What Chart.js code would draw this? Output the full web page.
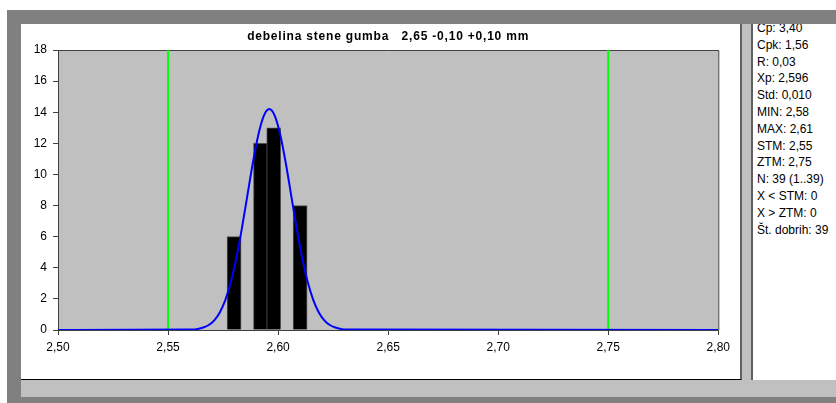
<!DOCTYPE html>
<html>
<head>
<meta charset="utf-8">
<script src="https://cdn.jsdelivr.net/npm/chart.js@4.4.1/dist/chart.umd.min.js"></script>
<style>
  body { margin: 0; width: 836px; height: 403px; overflow: hidden; background: #fff; position: relative; font-family: "Liberation Sans", Arial, sans-serif; }
  #frame { position: absolute; left: 7px; top: 10px; right: 0; bottom: 0; background: #808080; }
  #inner { position: absolute; left: 21px; top: 24px; right: 0; bottom: 6px; background: #c0c0c0; }
  #plotPanel { position: absolute; left: 21px; top: 24px; width: 719px; height: 355px; background: #fff; border-right: 2px solid #606060; border-bottom: 1px solid #000; }
  #statsPanel { position: absolute; left: 751px; top: 24px; width: 83px; height: 356px; background: #fff; border-left: 2px solid #606060; overflow: hidden; }
  #stats { position: absolute; left: 4px; top: -4px; font-size: 12px; line-height: 16.8px; color: #000; white-space: nowrap; }
  canvas { position: absolute; left: 0; top: 0; }
</style>
</head>
<body>
<div id="frame"></div>
<div id="inner"></div>
<div id="plotPanel"><canvas id="histChart" width="719" height="355"></canvas></div>
<div id="statsPanel"><div id="stats"></div></div>
<script>
// histogram data (bar centres and counts)
const binX = [2.580, 2.592, 2.598, 2.610];
const binCount = [6, 12, 13, 8];

// fitted normal curve
const curveX = [2.50, 2.561, 2.5635, 2.566, 2.5685, 2.571, 2.5735, 2.576, 2.5785, 2.581, 2.5835, 2.586, 2.5885, 2.591, 2.5935, 2.596,
                2.5985, 2.601, 2.6035, 2.606, 2.6085, 2.611, 2.6135, 2.616, 2.6185, 2.621, 2.6235, 2.626, 2.6285, 2.631, 2.80];
const curveY = [0, 0.03, 0.07, 0.16, 0.32, 0.62, 1.13, 1.92, 3.07, 4.61, 6.5, 8.61, 10.72, 12.53, 13.76, 14.2,
                13.76, 12.53, 10.72, 8.61, 6.5, 4.61, 3.07, 1.92, 1.13, 0.62, 0.32, 0.16, 0.07, 0.03, 0];

// tolerance limits STM / ZTM
const limits = [2.55, 2.75];

const xMin = 2.50, xMax = 2.80, xStep = 0.05;
const yMin = 0, yMax = 18, yStep = 2;

const title = 'debelina stene gumba   2,65 -0,10 +0,10 mm';

const statLines = ['Cp: 3,40', 'Cpk: 1,56', 'R: 0,03', 'Xp: 2,596', 'Std: 0,010', 'MIN: 2,58', 'MAX: 2,61',
                   'STM: 2,55', 'ZTM: 2,75', 'N: 39 (1..39)', 'X < STM: 0', 'X > ZTM: 0', 'Št. dobrih: 39'];

document.getElementById('stats').innerHTML = statLines.map(s => '<div>' + s + '</div>').join('');

const fontFamily = '"Liberation Sans", Arial, sans-serif';
const axisColor = '#404040';

// grey plot background + top/right border + title centred on plot area
const plotFrame = {
    id: 'plotFrame',
    beforeDraw(chart) {
        const { ctx, chartArea: a } = chart;
        ctx.save();
        ctx.fillStyle = '#c0c0c0';
        ctx.fillRect(a.left, a.top, a.right - a.left, a.bottom - a.top);
        ctx.restore();
    },
    beforeDatasetsDraw(chart) {
        const { ctx, chartArea: a } = chart;
        ctx.save();
        ctx.strokeStyle = axisColor;
        ctx.lineWidth = 1;
        ctx.beginPath();
        ctx.moveTo(a.left, a.top + 0.5);
        ctx.lineTo(a.right + 0.5, a.top + 0.5);
        ctx.lineTo(a.right + 0.5, a.bottom);
        ctx.stroke();
        ctx.restore();
    },
    afterDraw(chart) {
        const { ctx, chartArea: a } = chart;
        ctx.save();
        ctx.font = 'bold 12px ' + fontFamily;
        ctx.letterSpacing = '0.8px';
        ctx.fillStyle = '#000';
        ctx.textAlign = 'center';
        ctx.textBaseline = 'middle';
        ctx.fillText(title, (a.left + a.right) / 2, 12.5);
        ctx.restore();
    }
};

const limitSets = limits.map(v => ({
    type: 'line',
    data: [{ x: v, y: yMin }, { x: v, y: yMax }],
    borderColor: '#00ff00',
    borderWidth: 2,
    pointRadius: 0,
    order: 2
}));

const ctx = document.getElementById('histChart').getContext('2d');
const chart = new Chart(ctx, {
    type: 'bar',
    data: {
        datasets: [
            {
                type: 'bar',
                data: binX.map((x, i) => ({ x: x, y: binCount[i] })),
                backgroundColor: '#000000',
                borderColor: '#505050',
                borderWidth: 1,
                barThickness: 14,
                order: 3
            },
            ...limitSets,
            {
                type: 'line',
                data: curveX.map((x, i) => ({ x: x, y: curveY[i] })),
                borderColor: '#0000ff',
                borderWidth: 2,
                pointRadius: 0,
                cubicInterpolationMode: 'monotone',
                order: 1
            }
        ]
    },
    options: {
        responsive: false,
        animation: false,
        devicePixelRatio: 1,
        layout: { padding: { top: 26, right: 21.7, left: 0, bottom: 0 } },
        plugins: {
            legend: { display: false },
            tooltip: { enabled: false },
            title: { display: false }
        },
        scales: {
            x: {
                type: 'linear',
                min: xMin,
                max: xMax,
                offset: false,
                afterFit: scale => { scale.height = 49; },
                ticks: {
                    stepSize: xStep,
                    color: '#000',
                    padding: 5,
                    maxRotation: 0,
                    font: { family: fontFamily, size: 12 },
                    callback: v => v.toFixed(2).replace('.', ',')
                },
                grid: { drawOnChartArea: false, drawTicks: true, tickLength: 5, color: axisColor, offset: false },
                border: { display: true, color: axisColor }
            },
            y: {
                min: yMin,
                max: yMax,
                afterFit: scale => { scale.width = 37; },
                ticks: {
                    stepSize: yStep,
                    color: '#000',
                    padding: 6,
                    font: { family: fontFamily, size: 12 }
                },
                grid: { drawOnChartArea: false, drawTicks: true, tickLength: 5, color: axisColor },
                border: { display: true, color: axisColor }
            }
        }
    },
    plugins: [plotFrame]
});
</script>
</body>
</html>
